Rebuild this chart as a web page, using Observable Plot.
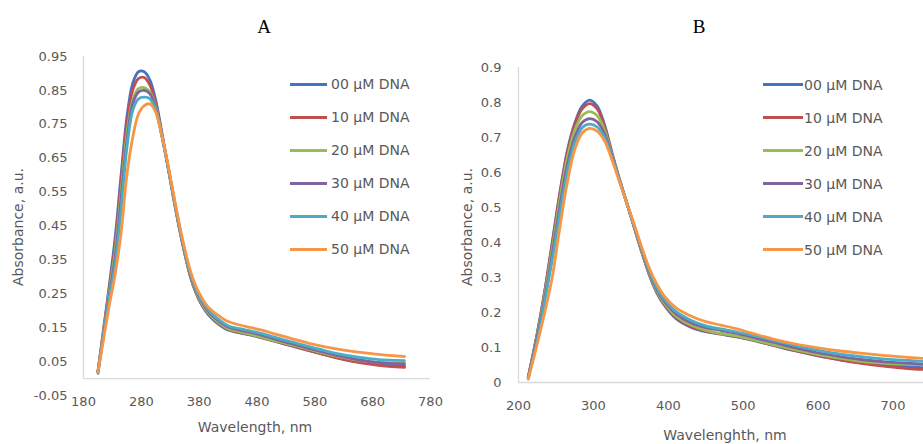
<!DOCTYPE html>
<html>
<head>
<meta charset="utf-8">
<script src="https://cdn.jsdelivr.net/npm/d3@7"></script>
<script src="https://cdn.jsdelivr.net/npm/@observablehq/plot@0.6"></script>
<style>
  html, body { margin: 0; padding: 0; background: #fff; overflow: hidden; }
  #wrap { position: relative; width: 923px; height: 444px; overflow: hidden; background: #fff; }
  .abs { position: absolute; white-space: nowrap; }
  .title { font-family: "Liberation Serif", serif; font-size: 19px; color: #000; transform: translate(-50%, -50%); }
  .axt { font-family: "DejaVu Sans", sans-serif; font-size: 14px; color: #595959; transform: translate(-50%, -50%); }
  .axty { font-family: "DejaVu Sans", sans-serif; font-size: 14px; color: #595959; transform: translate(-50%, -50%) rotate(-90deg); }
  .leg { font-family: "DejaVu Sans", sans-serif; font-size: 14px; color: #595959; }
</style>
</head>
<body>
<div id="wrap">
  <div id="chartA" class="abs" style="left:0;top:0"></div>
  <div id="chartB" class="abs" style="left:460px;top:0"></div>
</div>
<script>
// ---------- data ----------
const seriesNames = ["00 µM DNA", "10 µM DNA", "20 µM DNA", "30 µM DNA", "40 µM DNA", "50 µM DNA"];
const seriesColors = ["#4472C4", "#C0504D", "#9BBB59", "#8064A2", "#4BACC6", "#F79646"];

// Panel A
const wlA = [205,215,225,235,245,255,265,275,285,295,305,315,325,335,345,355,365,375,385,395,410,430,450,470,490,510,540,570,600,630,660,690,735];
const A00 = [0.02,0.15,0.28,0.42,0.60,0.77,0.87,0.905,0.905,0.88,0.82,0.73,0.635,0.54,0.45,0.37,0.30,0.25,0.215,0.19,0.165,0.143,0.135,0.128,0.119,0.110,0.096,0.082,0.069,0.057,0.048,0.042,0.037];
const A10 = [0.02,0.145,0.27,0.40,0.58,0.75,0.85,0.885,0.888,0.865,0.81,0.725,0.635,0.54,0.45,0.37,0.30,0.252,0.217,0.192,0.167,0.145,0.136,0.129,0.12,0.111,0.097,0.083,0.069,0.056,0.046,0.039,0.033];
const A20 = [0.02,0.14,0.26,0.38,0.55,0.72,0.82,0.855,0.858,0.845,0.80,0.72,0.635,0.54,0.45,0.37,0.302,0.255,0.22,0.195,0.17,0.147,0.138,0.13,0.121,0.112,0.099,0.086,0.073,0.062,0.053,0.048,0.045];
const A30 = [0.02,0.135,0.25,0.36,0.53,0.70,0.81,0.845,0.85,0.84,0.795,0.72,0.635,0.543,0.453,0.373,0.305,0.259,0.225,0.2,0.175,0.152,0.143,0.136,0.127,0.117,0.103,0.089,0.076,0.064,0.054,0.047,0.043];
const A40 = [0.015,0.13,0.24,0.34,0.50,0.68,0.79,0.825,0.83,0.825,0.79,0.72,0.637,0.545,0.456,0.377,0.31,0.263,0.229,0.204,0.179,0.156,0.147,0.14,0.132,0.122,0.108,0.094,0.081,0.07,0.062,0.056,0.053];
const A50 = [0.02,0.12,0.22,0.31,0.43,0.60,0.71,0.78,0.805,0.81,0.785,0.72,0.64,0.55,0.462,0.383,0.317,0.27,0.237,0.212,0.19,0.168,0.158,0.15,0.142,0.132,0.118,0.104,0.093,0.084,0.077,0.071,0.065];
const xTicksA = [180,280,380,480,580,680,780];
const yTicksA = [-0.05,0.05,0.15,0.25,0.35,0.45,0.55,0.65,0.75,0.85,0.95];

// Panel B
const wlB = [213,225,235,245,255,265,275,285,295,305,315,325,335,345,355,365,375,385,395,410,430,450,470,490,510,540,570,600,630,660,690,720,745];
const B00 = [0.015,0.14,0.26,0.40,0.54,0.66,0.74,0.79,0.807,0.79,0.735,0.655,0.58,0.51,0.44,0.37,0.305,0.255,0.22,0.183,0.158,0.145,0.138,0.131,0.122,0.106,0.09,0.076,0.065,0.056,0.05,0.045,0.042];
const B10 = [0.015,0.14,0.26,0.395,0.535,0.655,0.735,0.782,0.797,0.782,0.73,0.652,0.578,0.51,0.44,0.37,0.307,0.257,0.222,0.186,0.16,0.146,0.139,0.132,0.123,0.107,0.091,0.077,0.064,0.054,0.046,0.04,0.037];
const B20 = [0.015,0.135,0.25,0.38,0.52,0.64,0.72,0.762,0.774,0.762,0.72,0.648,0.577,0.51,0.442,0.372,0.31,0.26,0.226,0.19,0.164,0.149,0.14,0.133,0.124,0.108,0.093,0.08,0.069,0.06,0.055,0.052,0.05];
const B30 = [0.015,0.13,0.24,0.365,0.50,0.62,0.70,0.743,0.754,0.745,0.71,0.645,0.577,0.51,0.443,0.375,0.314,0.265,0.232,0.197,0.171,0.157,0.149,0.141,0.131,0.115,0.099,0.085,0.074,0.065,0.059,0.055,0.052];
const B40 = [0.01,0.12,0.23,0.35,0.48,0.60,0.685,0.728,0.738,0.73,0.70,0.64,0.575,0.51,0.445,0.378,0.318,0.27,0.237,0.203,0.178,0.162,0.153,0.145,0.136,0.12,0.105,0.092,0.081,0.073,0.067,0.063,0.06];
const B50 = [0.01,0.11,0.2,0.30,0.44,0.57,0.665,0.713,0.726,0.718,0.69,0.635,0.573,0.51,0.448,0.383,0.325,0.28,0.246,0.214,0.19,0.174,0.164,0.154,0.142,0.124,0.11,0.099,0.09,0.083,0.077,0.072,0.068];
const xTicksB = [200,300,400,500,600,700];
const yTicksB = [0,0.1,0.2,0.3,0.4,0.5,0.6,0.7,0.8,0.9];

// ---------- build tables ----------
function table(wl, seriesValues) {
  const rows = [];
  seriesValues.forEach((vals, i) => {
    vals.forEach((v, j) => rows.push({series: seriesNames[i], wl: wl[j], abs: v}));
  });
  return rows;
}
const dataA = table(wlA, [A00, A10, A20, A30, A40, A50]);
const dataB = table(wlB, [B00, B10, B20, B30, B40, B50]);

const axisColor = "#d9d9d9";
const textStyle = {fontFamily: "DejaVu Sans, sans-serif", fontSize: "13px", color: "#595959", background: "transparent", overflow: "hidden"};

const chartA = Plot.plot({
  width: 460, height: 444,
  marginLeft: 83, marginRight: 30, marginTop: 56, marginBottom: 49,
  style: textStyle,
  x: {domain: [180, 780]},
  y: {domain: [-0.05, 0.95]},
  color: {domain: seriesNames, range: seriesColors},
  marks: [
    Plot.ruleY([0], {x1: 180, x2: 780, stroke: axisColor, strokeWidth: 1.3}),
    Plot.ruleX([180], {y1: 0, y2: 0.95, stroke: axisColor, strokeWidth: 1.3}),
    Plot.axisX({ticks: xTicksA, tickSize: 0, tickPadding: 1, label: null, tickFormat: d => String(d)}),
    Plot.axisY({ticks: yTicksA, tickSize: 0, tickPadding: 16, label: null, tickFormat: d => d.toFixed(2)}),
    Plot.line(dataA, {x: "wl", y: "abs", stroke: "series", z: "series", curve: "catmull-rom", strokeWidth: 2.8})
  ]
});
document.getElementById("chartA").appendChild(chartA);

// Panel B: plot area continues past the right edge of the window (cropped as in the reference)
const chartB = Plot.plot({
  width: 463, height: 444,
  marginLeft: 58, marginRight: 0, marginTop: 67, marginBottom: 62,
  style: textStyle,
  x: {domain: [200, 800], range: [58, 507.4]},
  y: {domain: [0, 0.9]},
  color: {domain: seriesNames, range: seriesColors},
  marks: [
    Plot.ruleY([0], {x1: 200, x2: 800, stroke: axisColor, strokeWidth: 1.3}),
    Plot.ruleX([200], {y1: 0, y2: 0.9, stroke: axisColor, strokeWidth: 1.3}),
    Plot.axisX({ticks: xTicksB, tickSize: 0, tickPadding: 18, label: null, tickFormat: d => String(d)}),
    Plot.axisY({ticks: yTicksB, tickSize: 0, tickPadding: 17, label: null, tickFormat: d => d === 0 ? "0" : d.toFixed(1)}),
    Plot.line(dataB, {x: "wl", y: "abs", stroke: "series", z: "series", curve: "catmull-rom", strokeWidth: 2.8})
  ]
});
document.getElementById("chartB").appendChild(chartB);

// ---------- titles, axis titles, legends ----------
const wrap = document.getElementById("wrap");
function addText(cls, text, x, y) {
  const d = document.createElement("div");
  d.className = "abs " + cls;
  d.style.left = x + "px";
  d.style.top = y + "px";
  d.textContent = text;
  wrap.appendChild(d);
}
addText("title", "A", 264, 27);
addText("title", "B", 699, 27);
addText("axty", "Absorbance, a.u.", 18, 227);
addText("axty", "Absorbance, a.u.", 467, 227);
addText("axt", "Wavelength, nm", 255, 427);
addText("axt", "Wavelenghth, nm", 725, 435);

function legend(x0, lineW, textX, y0, dy) {
  seriesNames.forEach((name, i) => {
    const y = y0 + i * dy;
    const ln = document.createElement("div");
    ln.className = "abs";
    ln.style.left = x0 + "px";
    ln.style.top = (y - 1.5) + "px";
    ln.style.width = lineW + "px";
    ln.style.height = "3px";
    ln.style.background = seriesColors[i];
    wrap.appendChild(ln);
    const t = document.createElement("div");
    t.className = "abs leg";
    t.style.left = textX + "px";
    t.style.top = y + "px";
    t.style.transform = "translateY(-50%)";
    t.textContent = name;
    wrap.appendChild(t);
  });
}
legend(290, 37, 331, 84, 33);
legend(763, 40, 804, 84.5, 33);
</script>
</body>
</html>
